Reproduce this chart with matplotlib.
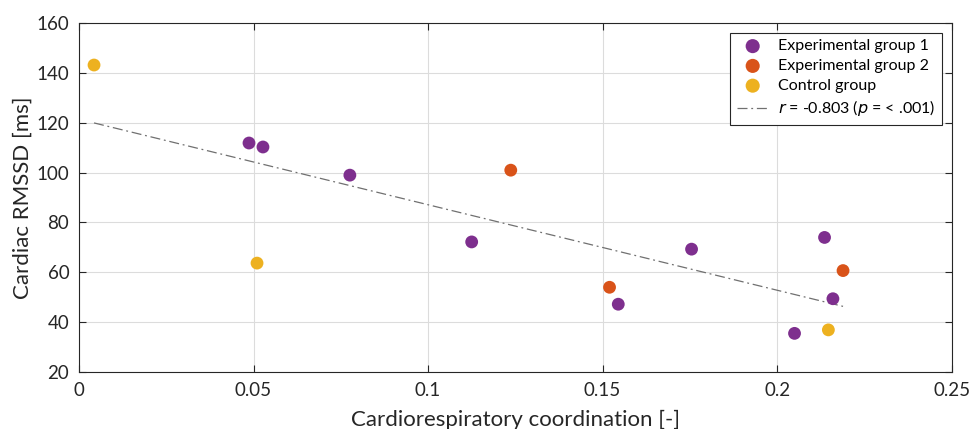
import numpy as np
import matplotlib
matplotlib.use("Agg")
import matplotlib.pyplot as plt

plt.rcParams["font.family"] = ["Lato", "DejaVu Sans"]

# Cardiorespiratory coordination vs RMSSD, per group
exp1_x = [0.0487, 0.0527, 0.0776, 0.1125, 0.1545, 0.1755, 0.2050, 0.2136, 0.2160]
exp1_y = [111.9, 110.3, 99.0, 72.2, 47.2, 69.3, 35.5, 74.0, 49.4]
exp2_x = [0.1237, 0.1520, 0.2189]
exp2_y = [101.0, 54.0, 60.7]
ctrl_x = [0.0043, 0.0510, 0.2147]
ctrl_y = [143.2, 63.7, 36.9]

xticks = [0, 0.05, 0.1, 0.15, 0.2, 0.25]
xticklabels = ["0", "0.05", "0.1", "0.15", "0.2", "0.25"]
yticks = [20, 40, 60, 80, 100, 120, 140, 160]

all_x = np.array(exp1_x + exp2_x + ctrl_x)
all_y = np.array(exp1_y + exp2_y + ctrl_y)
slope, intercept = np.polyfit(all_x, all_y, 1)
fit_x = np.array([all_x.min(), all_x.max()])

fig = plt.figure(figsize=(9.72, 4.29), dpi=100)
ax = fig.add_axes([0.0813, 0.1329, 0.8977, 0.8131])

ax.scatter(exp1_x, exp1_y, s=85, color="#7E2F8E", label="Experimental group 1", zorder=3, edgecolors="none")
ax.scatter(exp2_x, exp2_y, s=85, color="#D95319", label="Experimental group 2", zorder=3, edgecolors="none")
ax.scatter(ctrl_x, ctrl_y, s=85, color="#EDB120", label="Control group", zorder=3, edgecolors="none")
ax.plot(fit_x, slope * fit_x + intercept, color="#707070", linewidth=0.9,
        linestyle=(0, (8, 3, 1.5, 3)), label=r"$r$ = -0.803 ($p$ = < .001)", zorder=2)

ax.set_xlim(0, 0.25)
ax.set_ylim(20, 160)
ax.set_xticks(xticks)
ax.set_xticklabels(xticklabels)
ax.set_yticks(yticks)
ax.grid(True, color="#dcdcdc", linewidth=0.8)
ax.set_axisbelow(True)
ax.tick_params(direction="in", length=5, width=0.8, top=True, right=True,
               labelsize=13.5, colors="#262626", labelcolor="#262626", pad=7)
for spine in ax.spines.values():
    spine.set_color("#262626")
    spine.set_linewidth(0.8)

ax.set_xlabel("Cardiorespiratory coordination [-]", fontsize=16, color="#262626", labelpad=8)
ax.set_ylabel("Cardiac RMSSD [ms]", fontsize=16, color="#262626", labelpad=3)

leg = ax.legend(loc="upper right", fontsize=11.5, frameon=True, fancybox=False,
                edgecolor="#262626", framealpha=1, borderpad=0.4, handlelength=2.0,
                handletextpad=0.6, labelspacing=0.35, borderaxespad=0.6, markerscale=1.1)
leg.get_frame().set_linewidth(0.8)

fig.savefig("out.png", dpi=100)
